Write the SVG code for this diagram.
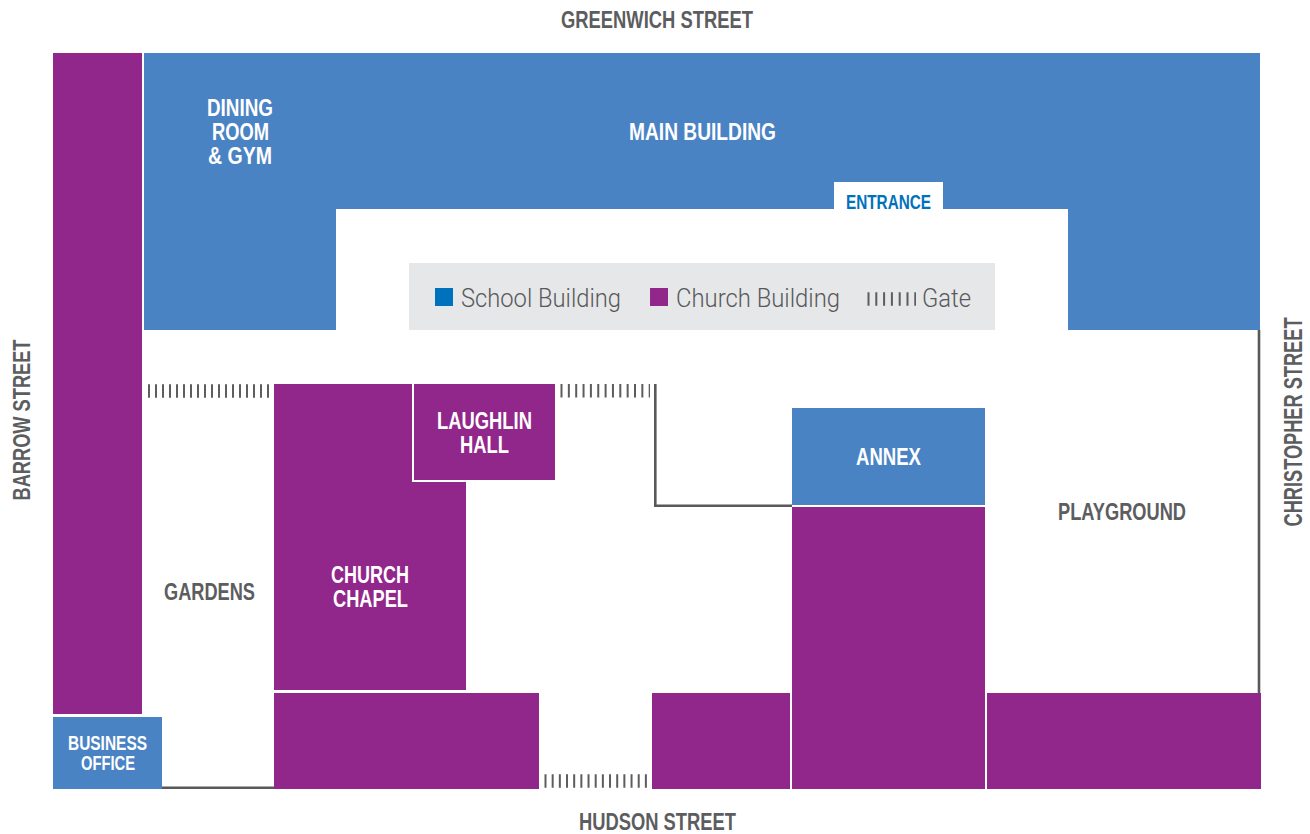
<svg xmlns="http://www.w3.org/2000/svg" width="1310" height="834" viewBox="0 0 1310 834">
<style>
.school{fill:#4a83c3}
.church{fill:#92278b}
.lab{font-family:"Liberation Sans",Arial,sans-serif;font-weight:700;font-size:23px}
.small{font-size:20px}
.w{fill:#fff}
.g{fill:#5c5d5f}
.e{fill:#0071bc}
.leg{font-family:Roboto,"Liberation Sans",sans-serif;font-weight:300;font-size:25px;fill:#58595b}
.wall{fill:none;stroke:#58595b;stroke-width:2.6}
.gate{fill:none;stroke:#5c5d5f;stroke-width:13.5;stroke-dasharray:2 5}
</style>
<rect width="1310" height="834" fill="#fff"/>
<g id="streets">
<text class="lab g" x="561" y="28" textLength="192" lengthAdjust="spacingAndGlyphs">GREENWICH STREET</text>
<text class="lab g" x="579" y="829.5" textLength="157" lengthAdjust="spacingAndGlyphs">HUDSON STREET</text>
<text class="lab g" style="font-size:24px" transform="translate(29.5 500.5) rotate(-90)" textLength="161" lengthAdjust="spacingAndGlyphs">BARROW STREET</text>
<text class="lab g" style="font-size:25px" transform="translate(1302 526.5) rotate(-90)" textLength="209" lengthAdjust="spacingAndGlyphs">CHRISTOPHER STREET</text>
</g>
<g id="connectors">
<path class="wall" d="M162 787.7H274"/>
<path class="wall" d="M655.3 384V505.7H792"/>
<path class="wall" d="M1259 330V693"/>
<path class="gate" d="M148 391H270"/>
<path class="gate" d="M560.5 390.8H650" style="stroke-dasharray:2 5.35"/>
<path class="gate" d="M544.5 781H648" style="stroke-dasharray:2 5.17"/>
</g>
<g id="barrow-church"><rect class="church" x="53" y="53" width="89" height="661"/></g>
<g id="main-building">
<path class="school" d="M144 53H1260V330H1068V209H336V330H144Z"/>
<text class="lab w" x="207" y="115.5" textLength="66" lengthAdjust="spacingAndGlyphs">DINING</text>
<text class="lab w" x="212" y="139.5" textLength="57" lengthAdjust="spacingAndGlyphs">ROOM</text>
<text class="lab w" x="208" y="163.5" textLength="64" lengthAdjust="spacingAndGlyphs">&amp; GYM</text>
<text class="lab w" x="629" y="139.5" textLength="147" lengthAdjust="spacingAndGlyphs">MAIN BUILDING</text>
</g>
<g id="entrance">
<rect class="w" x="834" y="182" width="109" height="28"/>
<text class="lab small e" x="846" y="209" textLength="85" lengthAdjust="spacingAndGlyphs">ENTRANCE</text>
</g>
<g id="legend">
<rect x="409" y="263" width="586" height="67" fill="#e6e7e8"/>
<rect x="435" y="288" width="18" height="18" fill="#0071bc"/>
<text class="leg" x="461" y="306.5" textLength="160" lengthAdjust="spacingAndGlyphs">School Building</text>
<rect class="church" x="650" y="288" width="18" height="18"/>
<text class="leg" x="676" y="306.5" textLength="164" lengthAdjust="spacingAndGlyphs">Church Building</text>
<path class="gate" d="M867.5 299H916" style="stroke-dasharray:2 5.8"/>
<text class="leg" x="922" y="306.5" textLength="49" lengthAdjust="spacingAndGlyphs">Gate</text>
</g>
<g id="church-chapel">
<path class="church" d="M274 384H412V482H466V690H274Z"/>
<text class="lab w" x="331" y="582.5" textLength="78" lengthAdjust="spacingAndGlyphs">CHURCH</text>
<text class="lab w" x="333" y="606.5" textLength="75" lengthAdjust="spacingAndGlyphs">CHAPEL</text>
</g>
<g id="laughlin-hall">
<rect class="church" x="414" y="384" width="141" height="96"/>
<text class="lab w" x="437" y="428.5" textLength="95" lengthAdjust="spacingAndGlyphs">LAUGHLIN</text>
<text class="lab w" x="460" y="452.5" textLength="49" lengthAdjust="spacingAndGlyphs">HALL</text>
</g>
<g id="gardens"><text class="lab g" x="164" y="599.5" textLength="91" lengthAdjust="spacingAndGlyphs">GARDENS</text></g>
<g id="annex">
<rect class="school" x="792" y="408" width="193" height="97"/>
<text class="lab w" x="856" y="464.5" textLength="65" lengthAdjust="spacingAndGlyphs">ANNEX</text>
</g>
<g id="church-east"><rect class="church" x="792" y="507" width="193" height="282"/></g>
<g id="playground"><text class="lab g" x="1058" y="519.5" textLength="128" lengthAdjust="spacingAndGlyphs">PLAYGROUND</text></g>
<g id="business-office">
<rect class="school" x="53" y="717" width="109" height="72"/>
<text class="lab small w" x="68" y="749.5" textLength="79" lengthAdjust="spacingAndGlyphs">BUSINESS</text>
<text class="lab small w" x="81" y="769.5" textLength="54" lengthAdjust="spacingAndGlyphs">OFFICE</text>
</g>
<g id="church-south-1"><rect class="church" x="274" y="693" width="265" height="96"/></g>
<g id="church-south-2"><rect class="church" x="652" y="693" width="138" height="96"/></g>
<g id="church-south-3"><rect class="church" x="987" y="693" width="274" height="96"/></g>
</svg>
